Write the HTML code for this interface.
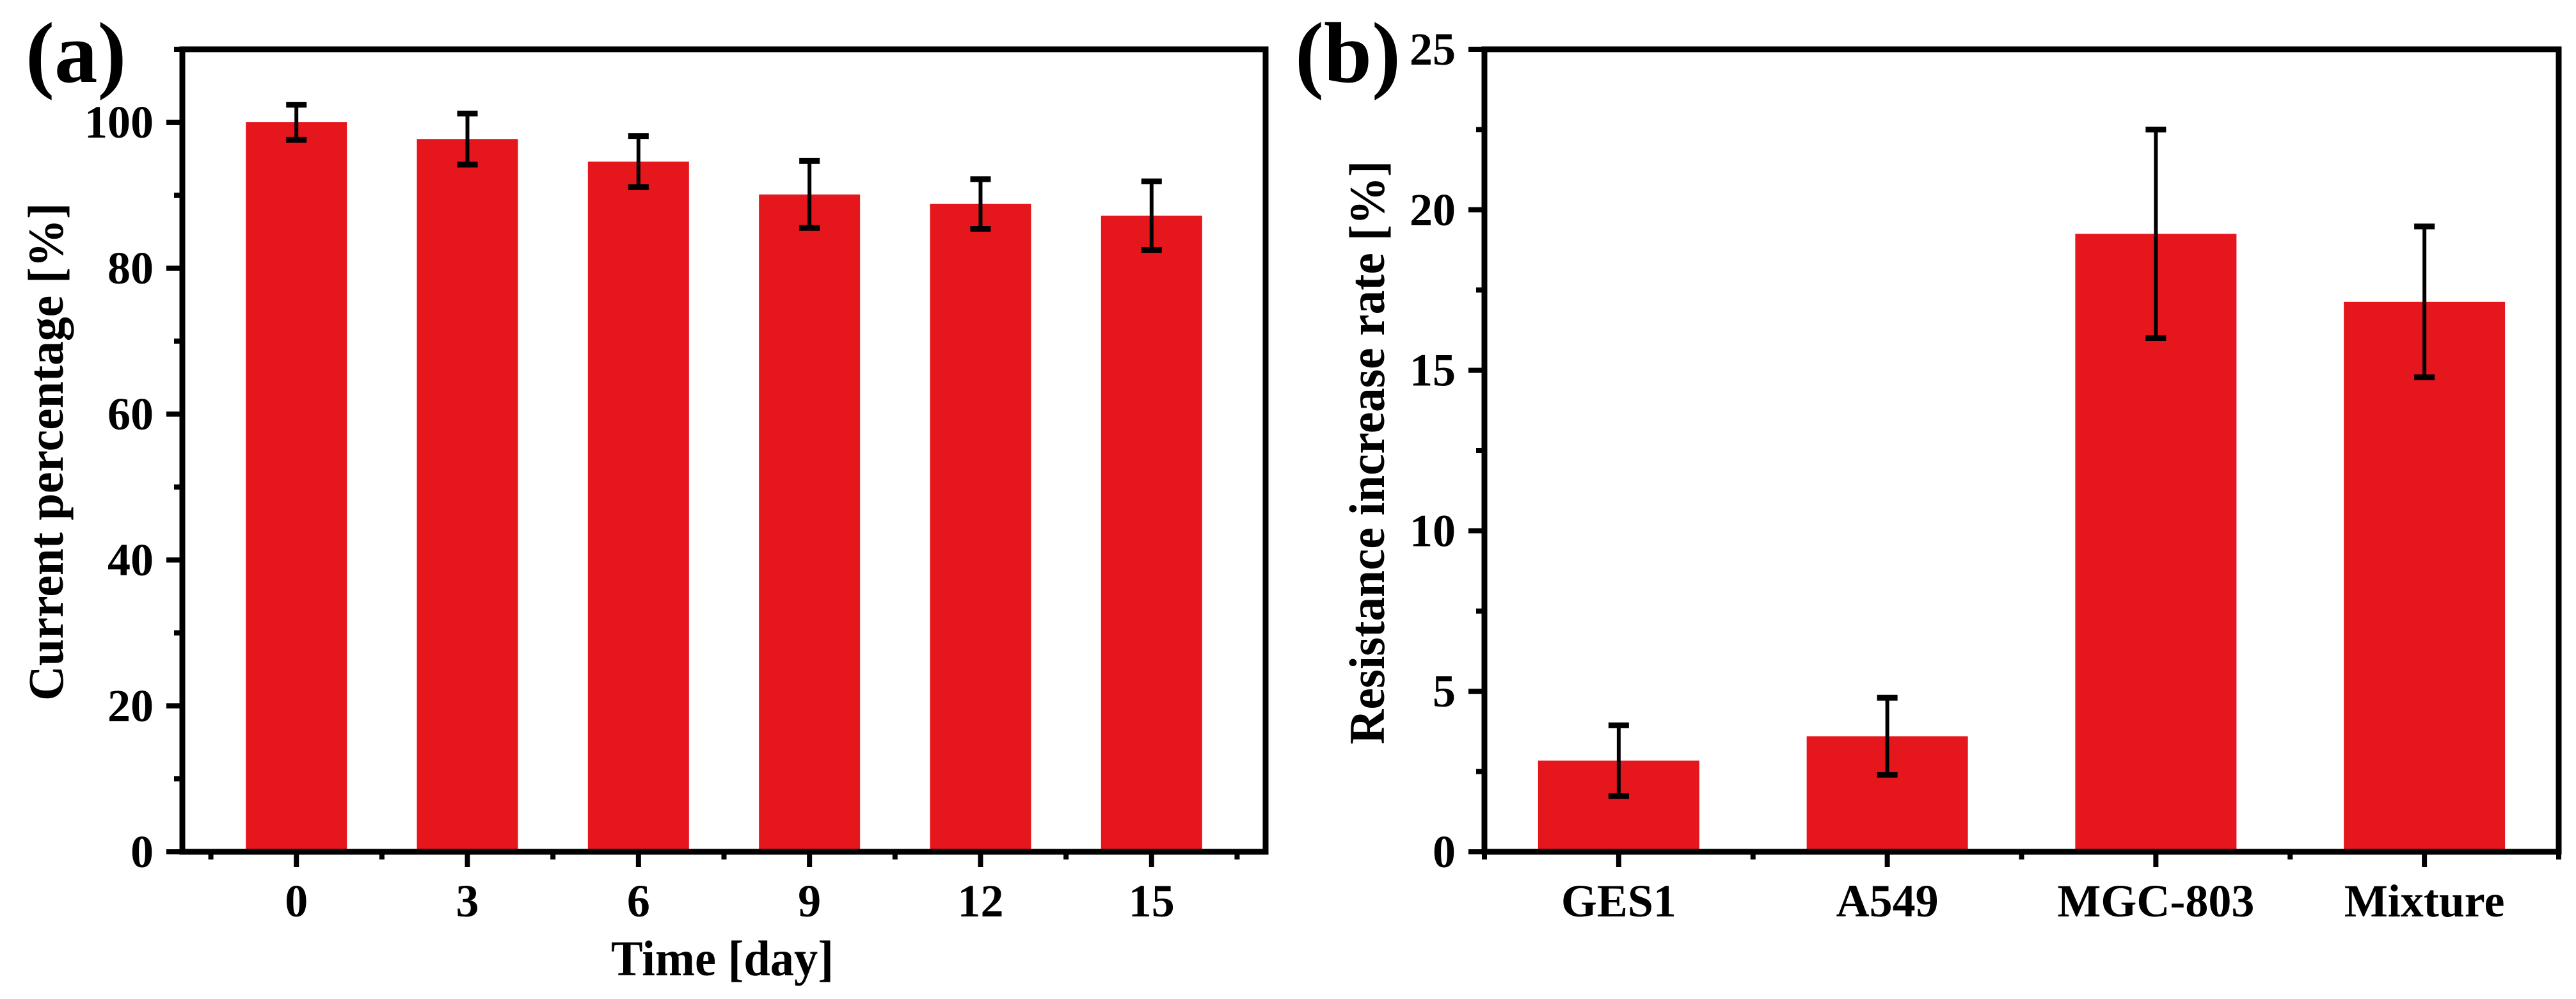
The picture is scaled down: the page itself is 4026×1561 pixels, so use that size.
<!DOCTYPE html>
<html><head><meta charset="utf-8">
<style>
html,body{margin:0;padding:0;background:#fff;}
svg{display:block;}
text{font-family:"Liberation Serif","DejaVu Serif",serif;font-weight:bold;fill:#000;}
</style></head>
<body>
<svg id="fig" width="4026" height="1561" viewBox="0 0 4026 1561" xmlns="http://www.w3.org/2000/svg">
<text x="40" y="128" font-size="135">(a)</text>
<text x="2024" y="128" font-size="135">(b)</text>
<text transform="translate(98,706) rotate(-90)" text-anchor="middle" font-size="78" textLength="778" lengthAdjust="spacingAndGlyphs">Current percentage [%]</text>
<text x="1129" y="1524" text-anchor="middle" font-size="78" textLength="348" lengthAdjust="spacingAndGlyphs">Time [day]</text>
<text transform="translate(2163,707) rotate(-90)" text-anchor="middle" font-size="78" textLength="912" lengthAdjust="spacingAndGlyphs">Resistance increase rate [%]</text>
<g id="pa"></g>
<g id="pb"></g>
</svg>
<script>
const aCategories = ["0","3","6","9","12","15"];
const aDays = [0,3,6,9,12,15];
const aValues = [100,97.7,94.6,90.1,88.8,87.2];
const aErrors = [2.4,3.5,3.5,4.6,3.4,4.7];
const aYTicks = [0,20,40,60,80,100];

const bCategories = ["GES1","A549","MGC-803","Mixture"];
const bValues = [2.84,3.6,19.25,17.13];
const bErrors = [1.1,1.2,3.25,2.35];
const bYTicks = [0,5,10,15,20,25];

const NS="http://www.w3.org/2000/svg";
function mk(tag,attrs,parent){const e=document.createElementNS(NS,tag);for(const k in attrs)e.setAttribute(k,attrs[k]);parent.appendChild(e);return e;}

function drawPanel(g,opt){
  const L=opt.left,R=opt.right,T=77,B=1331;
  const sx=v=>L+(v-opt.xmin)/(opt.xmax-opt.xmin)*(R-L);
  const sy=v=>B-(v-opt.ymin)/(opt.ymax-opt.ymin)*(B-T);
  // bars
  opt.xs.forEach((xv,i)=>{
    const r=mk('rect',{x:sx(xv)-opt.bw/2,y:sy(opt.vals[i]),width:opt.bw,height:B-sy(opt.vals[i]),fill:'#e6161d'},g);
    
    
    const cx=sx(xv),y1=sy(opt.vals[i]+opt.errs[i]),y2=sy(opt.vals[i]-opt.errs[i]);
    const eg=mk('g',{stroke:'#000','stroke-width':6},g);
    
    
    mk('line',{x1:cx,x2:cx,y1:y1,y2:y2},eg);
    mk('line',{x1:cx-16,x2:cx+16,y1:y1,y2:y1,'stroke-width':9},eg);
    mk('line',{x1:cx-16,x2:cx+16,y1:y2,y2:y2,'stroke-width':9},eg);
  });
  // frame
  const fr=mk('rect',{x:L,y:T,width:R-L,height:B-T,fill:'none',stroke:'#000','stroke-width':9},g);
  
  
  // y ticks
  opt.yticks.forEach(t=>{
    mk('line',{x1:L-25,x2:L,y1:sy(t),y2:sy(t),stroke:'#000','stroke-width':8},g);
    const tx=mk('text',{x:L-45,y:sy(t)+24,'text-anchor':'end','font-size':72},g);
    tx.textContent=String(t);
    
    
  });
  opt.yminor.forEach(t=>{mk('line',{x1:L-13,x2:L,y1:sy(t),y2:sy(t),stroke:'#000','stroke-width':8},g);});
  // x ticks
  opt.xs.forEach((xv,i)=>{
    mk('line',{x1:sx(xv),x2:sx(xv),y1:B,y2:B+24,stroke:'#000','stroke-width':8},g);
    const tx=mk('text',{x:sx(xv),y:1432,'text-anchor':'middle','font-size':72},g);
    tx.textContent=opt.cats[i];
    
    
  });
  opt.xminor.forEach(v=>{mk('line',{x1:sx(v),x2:sx(v),y1:B,y2:B+12,stroke:'#000','stroke-width':8},g);});
}

drawPanel(document.getElementById('pa'),{left:285,right:1978,xmin:-2,xmax:17,ymin:0,ymax:110,
  xs:aDays,vals:aValues,errs:aErrors,cats:aCategories,bw:158,yticks:aYTicks,
  yminor:[10,30,50,70,90,110],xminor:[-1.5,1.5,4.5,7.5,10.5,13.5,16.5]});
drawPanel(document.getElementById('pb'),{left:2320,right:3999,xmin:0.5,xmax:4.5,ymin:0,ymax:25,
  xs:[1,2,3,4],vals:bValues,errs:bErrors,cats:bCategories,bw:252,yticks:bYTicks,
  yminor:[2.5,7.5,12.5,17.5,22.5],xminor:[0.5,1.5,2.5,3.5,4.5]});
</script>
</body></html>
